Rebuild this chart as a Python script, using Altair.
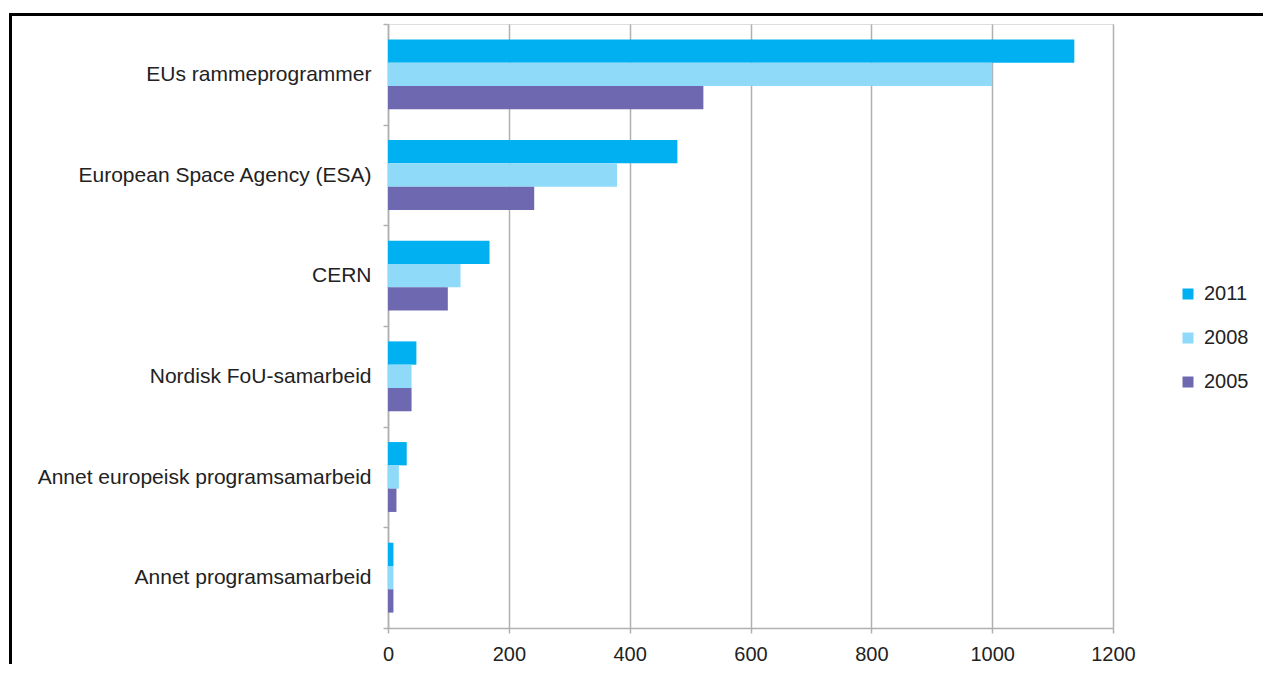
import altair as alt
import pandas as pd

categories = [
    "EUs rammeprogrammer\u00a0",
    "European Space Agency (ESA)",
    "CERN",
    "Nordisk FoU-samarbeid",
    "Annet europeisk programsamarbeid",
    "Annet programsamarbeid",
]
years = ["2011", "2008", "2005"]
v2011 = [1136, 479, 168, 47, 31, 9]
v2008 = [1000, 379, 120, 39, 18, 9]
v2005 = [522, 242, 99, 39, 14, 9]
colors = ["#00B0F0", "#8FDAF8", "#6D68B0"]
x_ticks = [0, 200, 400, 600, 800, 1000, 1200]

rows = []
for yr, vals in zip(years, [v2011, v2008, v2005]):
    for c, v in zip(categories, vals):
        rows.append({"category": c, "year": yr, "value": v})
df = pd.DataFrame(rows)

FONT = "Liberation Sans"
GRAY = "#B0B0B0"

bars = alt.Chart(df).mark_bar(stroke=None).encode(
    x=alt.X(
        "value:Q",
        scale=alt.Scale(domain=[0, 1200], nice=False, zero=True),
        axis=alt.Axis(
            values=x_ticks, format="d", title=None, grid=True, gridColor=GRAY, gridWidth=1.5,
            domainColor=GRAY, domainWidth=1.5, tickColor=GRAY, tickWidth=1.5, tickSize=5,
            labelFontSize=20, labelColor="#222222", labelPadding=11, labelFont=FONT,
            labelFlush=False,
        ),
    ),
    y=alt.Y(
        "category:N",
        sort=categories,
        scale=alt.Scale(paddingInner=0, paddingOuter=0),
        axis=alt.Axis(
            title=None, tickBand="extent", domainColor=GRAY, domainWidth=1.5,
            tickColor=GRAY, tickWidth=1.5, tickSize=5, labelFontSize=21,
            labelColor="#222222", labelPadding=12, labelFont=FONT, labelLimit=500,
        ),
    ),
    yOffset=alt.YOffset(
        "year:N", sort=years, scale=alt.Scale(paddingInner=0, paddingOuter=0.661)
    ),
    color=alt.Color(
        "year:N",
        sort=years,
        scale=alt.Scale(domain=years, range=colors),
        legend=alt.Legend(
            title=None, orient="none", legendX=790, legendY=260, symbolType="square",
            symbolSize=121, symbolStrokeWidth=0, labelFontSize=20, labelFont=FONT,
            labelColor="#222222", rowPadding=24, labelOffset=6,
        ),
    ),
)

frame_df = pd.DataFrame({"k": [0]})
top_line = alt.Chart(frame_df).mark_rule(color="black", strokeWidth=3).encode(
    x=alt.value(-378), x2=alt.value(900), y=alt.value(-9.5)
)
left_line = alt.Chart(frame_df).mark_rule(color="black", strokeWidth=3).encode(
    x=alt.value(-377.5), y=alt.value(-11), y2=alt.value(700)
)

chart = alt.layer(bars, top_line, left_line).properties(
    width=725,
    height=604,
    autosize=alt.AutoSizeParams(type="none"),
    padding={"left": 380, "top": 16, "right": 150, "bottom": 36},
).configure_view(stroke=None).configure(font=FONT)

chart.save("out.html", embed_options={"renderer": "svg", "actions": False})
